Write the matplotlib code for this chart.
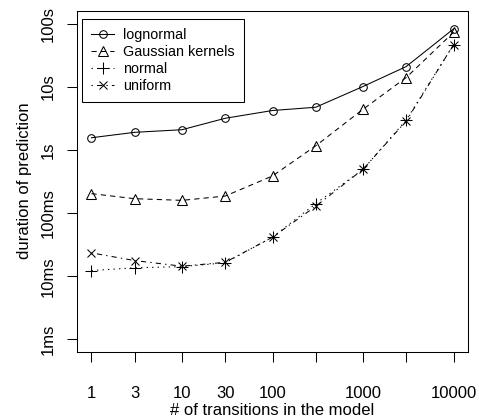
import matplotlib
matplotlib.use('Agg')
import matplotlib.pyplot as plt

plt.rcParams['font.family'] = ['Liberation Sans', 'DejaVu Sans']

# number of transitions in the model
transitions = [1, 3, 10, 30, 100, 300, 1000, 3000, 10000]
xtick_labels = ['1', '3', '10', '30', '100', '', '1000', '', '10000']

# duration of prediction in seconds
lognormal = [1.56, 1.90, 2.09, 3.17, 4.21, 4.74, 10.1, 20.9, 82.4]
gaussian_kernels = [0.203, 0.169, 0.159, 0.186, 0.387, 1.16, 4.40, 14.0, 72.8]
normal = [0.0123, 0.0136, 0.0142, 0.0163, 0.0415, 0.141, 0.490, 2.98, 46.4]
uniform = [0.0234, 0.0177, 0.0144, 0.0166, 0.0415, 0.128, 0.494, 2.87, 46.4]

ytick_values = [1e-3, 1e-2, 1e-1, 1, 10, 100]
ytick_labels = ['1ms', '10ms', '100ms', '1s', '10s', '100s']

fig = plt.figure(figsize=(4.79, 4.2), dpi=100)
ax = fig.add_axes([77/479, 1 - 352/420, 391/479, 341/420])

lw = 0.75
ax.plot(transitions, lognormal, color='black', lw=lw, linestyle='-',
        marker='o', markersize=5.5, markerfacecolor='none', markeredgewidth=lw,
        label='lognormal')
ax.plot(transitions, gaussian_kernels, color='black', lw=lw, linestyle=(0, (5, 4)),
        marker='^', markersize=6.5, markerfacecolor='none', markeredgewidth=lw,
        label='Gaussian kernels')
ax.plot(transitions, normal, color='black', lw=lw, linestyle=(0, (1.3, 4)),
        marker='+', markersize=8, markeredgewidth=lw,
        label='normal')
ax.plot(transitions, uniform, color='black', lw=lw, linestyle=(0, (1.3, 4, 5, 4)),
        marker='x', markersize=6, markeredgewidth=lw,
        label='uniform')

ax.set_xscale('log')
ax.set_yscale('log')
ax.set_xlim(10**-0.16, 10**4.16)
ax.set_ylim(10**-3.2, 10**2.2)

ax.set_xticks(transitions)
ax.set_xticklabels(xtick_labels)
ax.set_yticks(ytick_values)
ax.set_yticklabels(ytick_labels)
ax.minorticks_off()
plt.setp(ax.get_yticklabels(), rotation=90, va='center')

ax.tick_params(axis='both', direction='out', length=7.2, width=lw,
               labelsize=12, color='black')
ax.tick_params(axis='x', pad=17)
ax.tick_params(axis='y', pad=8)
for s in ax.spines.values():
    s.set_linewidth(lw)

fig.text(272.5/479, 1 - 415/420, '# of transitions in the model',
         ha='center', va='baseline', fontsize=12)
fig.text(29.5/479, 1 - 181/420, 'duration of prediction', rotation=90,
         rotation_mode='anchor', ha='center', va='baseline', fontsize=12)

leg = ax.legend(loc='upper left', bbox_to_anchor=(5/391, (352-19)/341),
                borderaxespad=0, fancybox=False, framealpha=1, edgecolor='black',
                fontsize=10.4, handlelength=1.6, handletextpad=0.65,
                labelspacing=0.2, borderpad=0.62)
leg.get_frame().set_linewidth(lw)

fig.savefig('out.png', dpi=100)
